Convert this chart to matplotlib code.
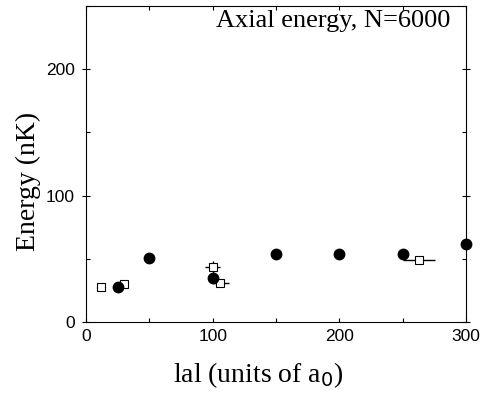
import matplotlib.pyplot as plt
import matplotlib

matplotlib.rcParams['font.family'] = 'Liberation Sans'
plt.rcParams['figure.figsize'] = (4.84, 3.93)

# filled circles
a_circ = [25, 50, 100, 150, 200, 250, 300]
e_circ = [27.5, 50.5, 34.5, 54, 54, 54, 62]

# open squares with error bars
a_sq = [12, 30, 100, 106, 263]
e_sq = [28, 29.8, 43.5, 30.8, 48.7]
a_sq_err = [0, 0, 6, 6.5, 12.5]
e_sq_err = [0, 0, 4.5, 0, 0]

x_ticks = [0, 100, 200, 300]
y_ticks = [0, 100, 200]

fig = plt.figure(dpi=100)
ax = fig.add_axes([0.1777, 0.1807, 0.7851, 0.8040])

ax.errorbar(a_sq, e_sq, xerr=a_sq_err, yerr=e_sq_err, fmt='s', color='black',
            mfc='white', mec='black', ms=6, mew=0.8, elinewidth=1.0, capsize=0, zorder=3)
ax.plot(a_circ, e_circ, 'o', color='black', ms=7.5, zorder=4, clip_on=False)

ax.set_xlim(0, 300)
ax.set_ylim(0, 250)
ax.set_xticks(x_ticks)
ax.set_yticks(y_ticks)
ax.set_xticks(range(50, 300, 100), minor=True)
ax.set_yticks([50, 150, 250], minor=True)
ax.tick_params(which='both', direction='in', top=True, right=True, length=3, width=0.8,
               labelsize=12.5, pad=5)
ax.tick_params(axis='y', which='major', direction='inout', length=6)

for s in ax.spines.values():
    s.set_linewidth(0.8)

serif = 'Liberation Serif'
ax.set_xlabel('lal (units of a$_0$)', fontsize=20, family=serif)
ax.xaxis.set_label_coords(0.4526, -0.12)
ax.set_ylabel('Energy (nK)', fontsize=20, family=serif)
ax.yaxis.set_label_coords(-0.118, 0.446)
ax.text(0.96, 0.952, 'Axial energy, N=6000', transform=ax.transAxes, ha='right', va='center',
        fontsize=19, family=serif)

plt.savefig('out.png', dpi=100)
